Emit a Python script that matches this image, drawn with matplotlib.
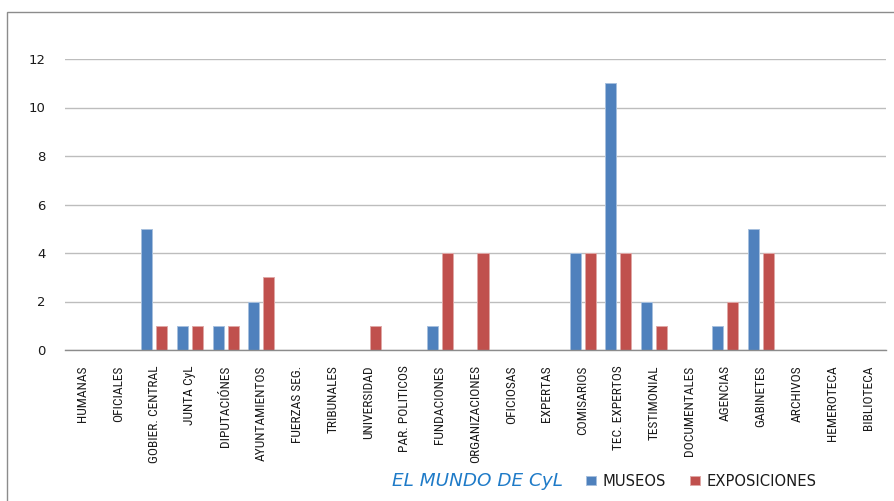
import matplotlib
matplotlib.use("Agg")
import matplotlib.pyplot as plt
from matplotlib.patches import Rectangle
import numpy as np

categories = ["HUMANAS", "OFICIALES", "GOBIER. CENTRAL", "JUNTA CyL", "DIPUTACIÓNES",
              "AYUNTAMIENTOS", "FUERZAS SEG.", "TRIBUNALES", "UNIVERSIDAD",
              "PAR. POLITICOS", "FUNDACIONES", "ORGANIZACIONES", "OFICIOSAS",
              "EXPERTAS", "COMISARIOS", "TEC. EXPERTOS", "TESTIMONIAL",
              "DOCUMENTALES", "AGENCIAS", "GABINETES", "ARCHIVOS", "HEMEROTECA",
              "BIBLIOTECA"]
museos = [0, 0, 5, 1, 1, 2, 0, 0, 0, 0, 1, 0, 0, 0, 4, 11, 2, 0, 1, 5, 0, 0, 0]
exposiciones = [0, 0, 1, 1, 1, 3, 0, 0, 1, 0, 4, 4, 0, 0, 4, 4, 1, 0, 2, 4, 0, 0, 0]
y_ticks = [0, 2, 4, 6, 8, 10, 12]
axis_title = "EL MUNDO DE CyL"

BLUE = "#4F81BD"
RED = "#C0504D"
NARROW = ["Roboto Condensed", "Archivo Narrow", "DejaVu Sans"]

fig = plt.figure(figsize=(8.95, 5.01), dpi=100)
W, H = 895, 501

# outer chart frame (runs past the right and bottom edges)
fig.patches.append(Rectangle((7 / W, -0.1), 1.2, 1 - 12 / H + 0.1,
                             transform=fig.transFigure, fill=False,
                             edgecolor="#8C8C8C", linewidth=1.0))

ax = fig.add_axes([65 / W, 1 - 350 / H, (886 - 65) / W, (350 - 59) / H])

x = np.arange(len(categories))
bw = 0.31
off = 0.21
ax.bar(x - off, museos, bw, color=BLUE, edgecolor="#A7C0DE", linewidth=0.7,
       label="MUSEOS", zorder=3)
ax.bar(x + off, exposiciones, bw, color=RED, edgecolor="#DFA7A6", linewidth=0.7,
       label="EXPOSICIONES", zorder=3)

ax.set_xlim(-0.5, len(categories) - 0.5)
ax.set_ylim(0, 12)
ax.set_yticks(y_ticks)
ax.set_yticklabels([str(v) for v in y_ticks], fontsize=9.5, color="#1a1a1a")
ax.yaxis.grid(True, color="#BDBDBD", linewidth=1.0, zorder=0)
ax.set_axisbelow(True)
for s in ["left", "right", "top"]:
    ax.spines[s].set_visible(False)
ax.spines["bottom"].set_color("#8C8C8C")
ax.spines["bottom"].set_linewidth(1.0)
ax.spines["bottom"].set_zorder(4)
ax.tick_params(axis="y", length=0, pad=14)
ax.tick_params(axis="x", length=0, pad=11)

ax.set_xticks(x)
ax.set_xticklabels(categories, rotation=90, fontsize=9.6, family=NARROW,
                   color="#1a1a1a", va="top", ha="center")

fig.text(563 / W, 1 - 481 / H, axis_title, fontsize=13.2, style="italic",
         color="#1F7BC8", ha="right", va="center")

leg = ax.legend(loc="center left", bbox_to_anchor=(586 / W, 1 - 481 / H),
                bbox_transform=fig.transFigure, ncol=2, frameon=False,
                fontsize=10.6, handlelength=0.7, handleheight=0.6,
                handletextpad=0.45, columnspacing=1.6, borderpad=0,
                borderaxespad=0)
for t in leg.get_texts():
    t.set_color("#1a1a1a")

fig.savefig("out.png", dpi=100)
